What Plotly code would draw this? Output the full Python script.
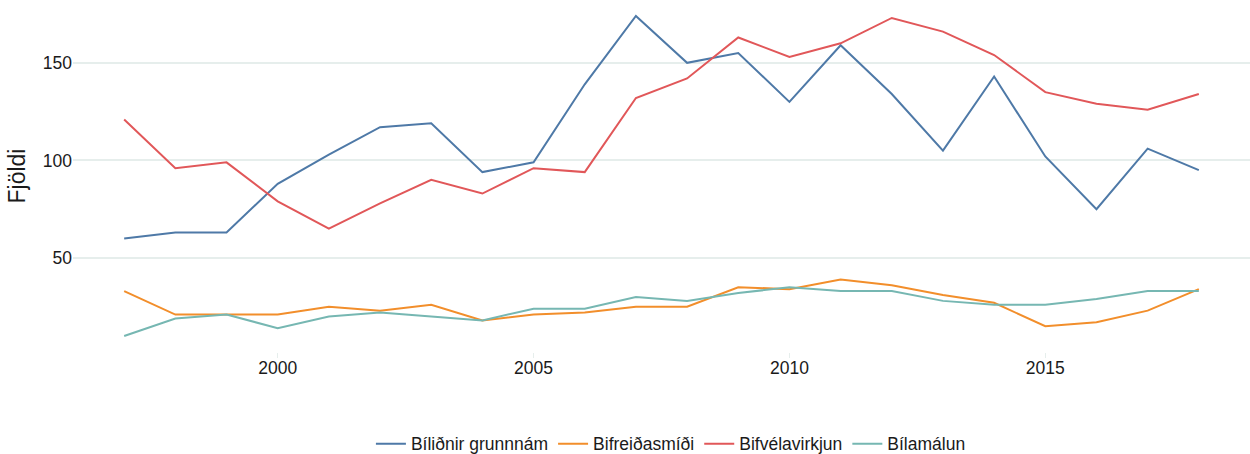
import plotly.graph_objects as go

years = list(range(1997, 2019))
bilidnir = [60, 63, 63, 88, 103, 117, 119, 94, 99, 139, 174, 150, 155, 130, 159, 134, 105, 143, 102, 75, 106, 95]
bifreidasmidi = [33, 21, 21, 21, 25, 23, 26, 18, 21, 22, 25, 25, 35, 34, 39, 36, 31, 27, 15, 17, 23, 34]
bifvelavirkjun = [121, 96, 99, 79, 65, 78, 90, 83, 96, 94, 132, 142, 163, 153, 160, 173, 166, 154, 135, 129, 126, 134]
bilamalun = [10, 19, 21, 14, 20, 22, 20, 18, 24, 24, 30, 28, 32, 35, 33, 33, 28, 26, 26, 29, 33, 33]

series_names = ["Bíliðnir grunnnám", "Bifreiðasmíði", "Bifvélavirkjun", "Bílamálun"]
series_values = [bilidnir, bifreidasmidi, bifvelavirkjun, bilamalun]
colors = ["#4E79A7", "#F28E2B", "#E15759", "#76B7B2"]

fig = go.Figure()
for name, vals, c in zip(series_names, series_values, colors):
    fig.add_trace(go.Scatter(x=years, y=vals, mode="lines", name=name,
                             line=dict(color=c, width=2)))

font_family = "Liberation Sans, Arial, sans-serif"
fig.update_layout(
    width=1250, height=454,
    margin=dict(l=73, r=0, t=0, b=102),
    paper_bgcolor="white", plot_bgcolor="white",
    font=dict(family=font_family, size=17, color="#1a1a1a"),
    showlegend=True,
    legend=dict(orientation="h", x=0.508, xanchor="center",
                yref="container", y=0.0225, yanchor="middle",
                font=dict(size=17.5), borderwidth=0),
    xaxis=dict(range=[1996, 2019], tickmode="linear", tick0=2000, dtick=5,
               showgrid=True, gridcolor="white", gridwidth=2, zeroline=False,
               showline=False, ticks="outside", ticklen=5, tickcolor="#e6eeec",
               ticklabelstandoff=-5,
               tickfont=dict(size=17.5), automargin=False),
    yaxis=dict(range=[1.8, 182.2], tickvals=[50, 100, 150],
               showgrid=True, gridcolor="#e6eeec", gridwidth=1.5, zeroline=False,
               showline=False, ticks="", tickfont=dict(size=17.5), automargin=False,
               title=dict(text="Fjöldi", font=dict(size=23), standoff=10)),
)

fig.write_html("out.html", config={"displayModeBar": False},
               post_script="document.body.style.margin='0';document.body.style.padding='0';")
